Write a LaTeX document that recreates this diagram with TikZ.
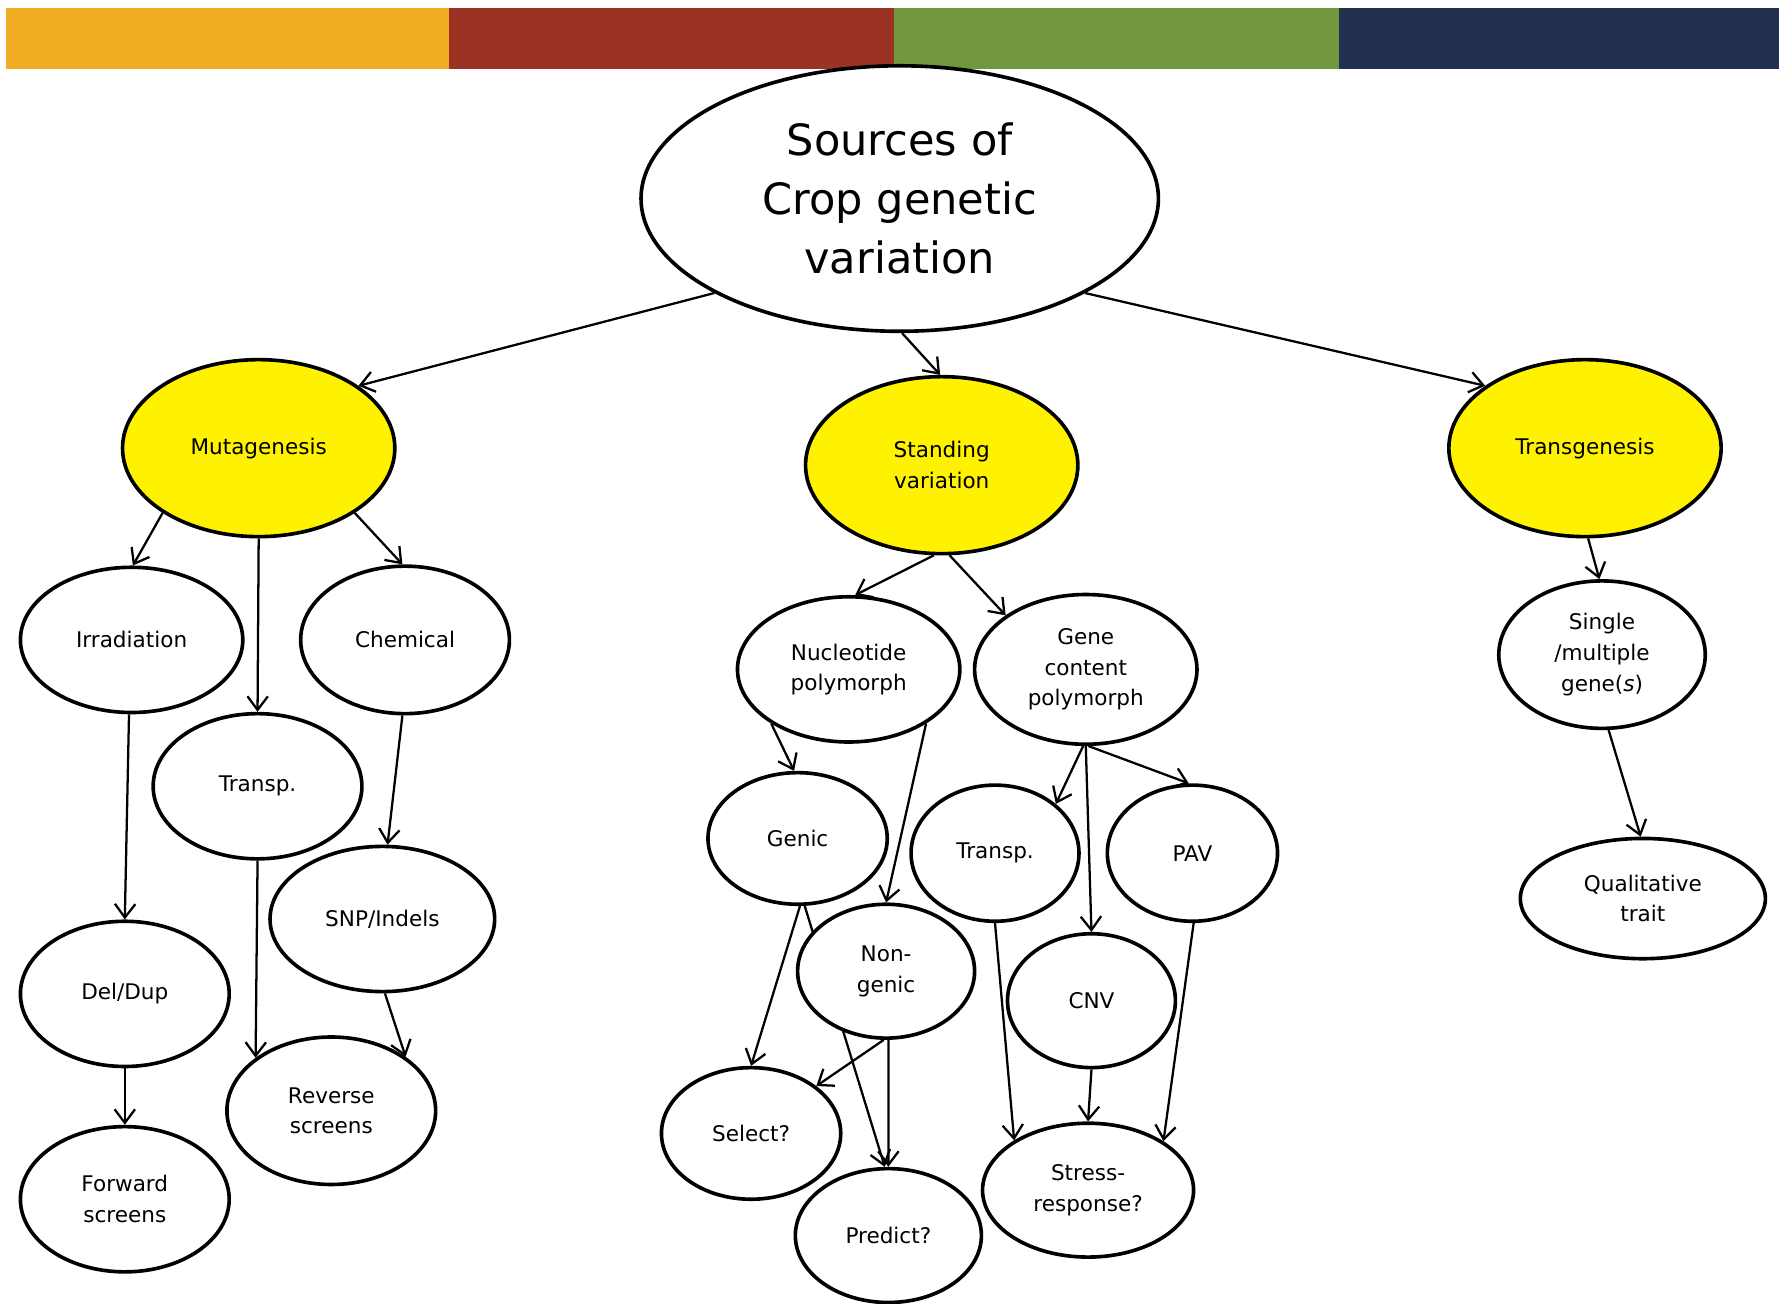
\documentclass[tikz,border=0pt]{standalone}
\usepackage{fontspec}
\setmainfont{DejaVu Sans}
\usetikzlibrary{shapes.geometric,arrows.meta,backgrounds}
\definecolor{barO}{RGB}{240,172,34}
\definecolor{barR}{RGB}{155,50,36}
\definecolor{barG}{RGB}{113,152,61}
\definecolor{barN}{RGB}{33,48,78}
\begin{document}
\begin{tikzpicture}[x=0.5pt,y=-0.5pt,
  bub/.style={ellipse,draw,line width=1.6pt,fill=white,inner sep=0pt,align=center,
    font=\fontsize{9.5}{13.5}\selectfont},
  hub/.style={bub,fill=yellow,minimum width=120pt,minimum height=78pt},
  arr/.style={line width=1pt,-{Straight Barb[length=6pt,width=9pt]}}]
\useasboundingbox (0,0) rectangle (1568,1149);
% colour bar
\fill[barO] (5,7) rectangle (396,61);
\fill[barR] (396,7) rectangle (788,61);
\fill[barG] (788,7) rectangle (1180,61);
\fill[barN] (1180,7) rectangle (1568,61);
% nodes
\node[bub,minimum width=228pt,minimum height=117pt,font=\fontsize{19}{26}\selectfont] (title) at (793,175) {Sources of\\Crop genetic\\variation};
\node[hub] (mut) at (228,395) {Mutagenesis};
\node[hub] (stand) at (830,410) {Standing\\variation};
\node[hub] (trans) at (1397,395) {Transgenesis};
\node[bub,minimum width=98pt,minimum height=64pt] (irr) at (116,564) {Irradiation};
\node[bub,minimum width=92pt,minimum height=65pt] (chem) at (357,564) {Chemical};
\node[bub,minimum width=92pt,minimum height=64pt] (tpl) at (227,693) {Transp.};
\node[bub,minimum width=99pt,minimum height=64pt] (snp) at (337,810) {SNP/Indels};
\node[bub,minimum width=92pt,minimum height=64pt] (dd) at (110,876) {Del/Dup};
\node[bub,minimum width=92pt,minimum height=65pt] (rev) at (292,979) {Reverse\\screens};
\node[bub,minimum width=92pt,minimum height=64pt] (fwd) at (110,1057) {Forward\\screens};
\node[bub,minimum width=98pt,minimum height=64pt] (nuc) at (748,590) {Nucleotide\\polymorph};
\node[bub,minimum width=98pt,minimum height=66pt] (gene) at (957,590) {Gene\\content\\polymorph};
\node[bub,minimum width=79pt,minimum height=58pt] (genic) at (703,739) {Genic};
\node[bub,minimum width=74pt,minimum height=60pt] (tpm) at (877,752) {Transp.};
\node[bub,minimum width=75pt,minimum height=60pt] (pav) at (1051,752) {PAV};
\node[bub,minimum width=78pt,minimum height=59pt] (nong) at (781,856) {Non-\\genic};
\node[bub,minimum width=74pt,minimum height=59pt] (cnv) at (962,882) {CNV};
\node[bub,minimum width=79pt,minimum height=58pt] (sel) at (662,999) {Select?};
\node[bub,minimum width=82pt,minimum height=59pt] (pred) at (783,1089) {Predict?};
\node[bub,minimum width=93pt,minimum height=59pt] (stress) at (959,1049) {Stress-\\response?};
\node[bub,minimum width=91pt,minimum height=65pt] (single) at (1412,577) {Single\\/multiple\\gene(\textit{s})};
\node[bub,minimum width=108pt,minimum height=53pt] (qual) at (1448,792) {Qualitative\\trait};
% connectors
\begin{pgfonlayer}{background}
\draw[arr] (title.207) -- (mut.32);
\draw[arr] (title.271) -- (stand.91);
\draw[arr] (title.333) -- (trans.148);
\draw[arr] (mut.214) -- (irr.89);
\draw[arr] (mut.270) -- (tpl.90);
\draw[arr] (mut.326) -- (chem.92);
\draw[arr] (irr.268) -- (dd.90);
\draw[arr] (chem.268) -- (snp.86);
\draw[arr] (tpl.270) -- (rev.145);
\draw[arr] (snp.272) -- (rev.36);
\draw[arr] (dd.270) -- (fwd.90);
\draw[arr] (stand.265) -- (nuc.85);
\draw[arr] (stand.275) -- (gene.146);
\draw[arr] (nuc.215) -- (genic.93);
\draw[arr] (nuc.325) -- (nong.90);
\draw[arr] (gene.268) -- (tpm.39);
\draw[arr] (gene.270) -- (cnv.90);
\draw[arr] (gene.272) -- (pav.93);
\draw[arr] (genic.272) -- (sel.90);
\draw[arr] (genic.276) -- (pred.93);
\draw[arr] (nong.268) -- (sel.36);
\draw[arr] (nong.272) -- (pred.90);
\draw[arr] (tpm.270) -- (stress.146);
\draw[arr] (cnv.270) -- (stress.90);
\draw[arr] (pav.271) -- (stress.33);
\draw[arr] (trans.272) -- (single.92);
\draw[arr] (single.275) -- (qual.92);
\end{pgfonlayer}
\end{tikzpicture}
\end{document}
